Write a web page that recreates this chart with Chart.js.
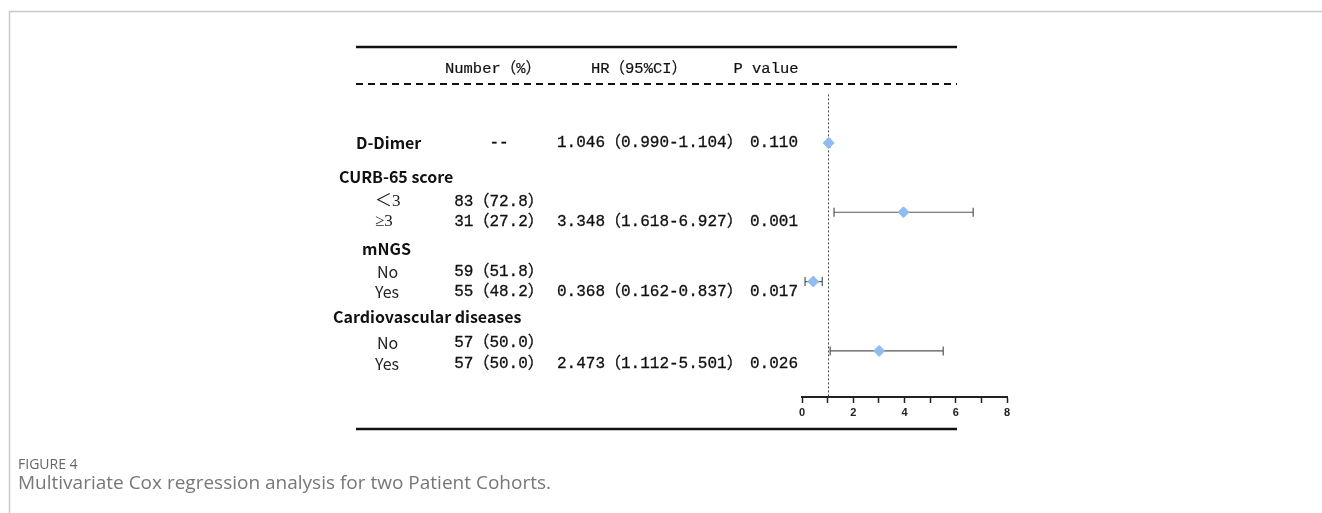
<!DOCTYPE html>
<html>
<head>
<meta charset="utf-8">
<script src="https://cdn.jsdelivr.net/npm/chart.js@4.4.1/dist/chart.umd.min.js"></script>
<style>
  body { margin: 0; background: #fff; }
  #wrap { position: relative; width: 1322px; height: 513px; }
</style>
</head>
<body>
<div id="wrap"><canvas id="forest"></canvas></div>
<script>
// values
var variables = ['D-Dimer', 'CURB-65 score', 'mNGS', 'Cardiovascular diseases'];
var levels = [[], ['＜3', '≥3'], ['No', 'Yes'], ['No', 'Yes']];
var counts = [['--'], ['83（72.8）', '31（27.2）'], ['59（51.8）', '55（48.2）'], ['57（50.0）', '57（50.0）']];
var hrLabels = ['1.046（0.990-1.104）', '3.348（1.618-6.927）', '0.368（0.162-0.837）', '2.473（1.112-5.501）'];
var pValues = ['0.110', '0.001', '0.017', '0.026'];
var hrPoint = [1.04, 3.96, 0.44, 3.01];
var ciLow = [0.99, 1.25, 0.12, 1.10];
var ciHigh = [1.10, 6.68, 0.79, 5.51];
var xTicks = [0, 2, 4, 6, 8];
var headers = ['Number（%）', 'HR（95%CI）', 'P value'];

// row layout, in y-scale units (marker rows are 0..3)
var groupRow = [0, 0.49, 1.53, 2.51];
var levelRow = [[], [0.85, 1.14], [1.86, 2.15], [2.885, 3.19]];
var groupX = [356, 339, 362, 333];

var monoFont = "16px 'Liberation Mono', 'Noto Sans CJK SC'";
var headFont = "15.5px 'Liberation Mono', 'Noto Sans CJK SC'";
var serifFont = "17px 'Liberation Serif', 'Noto Sans CJK SC'";
var sansBold = "bold 16px 'Noto Sans CJK SC'";
var sans = "16px 'Noto Sans CJK SC'";

// mono text with a thin outline so it reads as heavy as the original
function heavyText(c, s, x, y, w) {
  c.fillText(s, x, y);
  c.lineWidth = w;
  c.strokeStyle = c.fillStyle;
  c.strokeText(s, x, y);
}

var tablePlugin = {
  id: 'table',
  beforeDraw: function(chart) {
    var c = chart.ctx;
    c.save();
    c.fillStyle = '#fff';
    c.fillRect(0, 0, chart.width, chart.height);
    c.strokeStyle = '#c9c9c9';
    c.lineWidth = 1.5;
    c.beginPath();
    c.moveTo(9.5, chart.height);
    c.lineTo(9.5, 11.5);
    c.lineTo(chart.width, 11.5);
    c.stroke();
    c.restore();
  },
  beforeDatasetsDraw: function(chart) {
    var c = chart.ctx, xs = chart.scales.x, ys = chart.scales.y;
    c.save();
    // reference line at HR = 1
    c.strokeStyle = '#444';
    c.lineWidth = 1;
    c.setLineDash([2, 2]);
    c.beginPath();
    var x1 = Math.round(xs.getPixelForValue(1)) + 0.5;
    c.moveTo(x1, chart.chartArea.top);
    c.lineTo(x1, chart.chartArea.bottom);
    c.stroke();
    c.setLineDash([]);
    // confidence intervals
    c.strokeStyle = '#555';
    c.lineWidth = 1.2;
    for (var i = 0; i < variables.length; i++) {
      var y = ys.getPixelForValue(i);
      var a = xs.getPixelForValue(ciLow[i]), b = xs.getPixelForValue(ciHigh[i]);
      c.beginPath();
      c.moveTo(a, y); c.lineTo(b, y);
      c.moveTo(a, y - 4.5); c.lineTo(a, y + 4.5);
      c.moveTo(b, y - 4.5); c.lineTo(b, y + 4.5);
      c.stroke();
    }
    c.restore();
  },
  afterDraw: function(chart) {
    var c = chart.ctx, ys = chart.scales.y;
    c.save();
    // table rules
    c.strokeStyle = '#111';
    c.lineWidth = 2.5;
    c.beginPath();
    c.moveTo(356, ys.getPixelForValue(-1.385));
    c.lineTo(957, ys.getPixelForValue(-1.385));
    c.moveTo(356, ys.getPixelForValue(4.125));
    c.lineTo(957, ys.getPixelForValue(4.125));
    c.stroke();
    c.lineWidth = 2;
    c.setLineDash([7, 5]);
    c.beginPath();
    c.moveTo(356, ys.getPixelForValue(-0.851));
    c.lineTo(957, ys.getPixelForValue(-0.851));
    c.stroke();
    c.setLineDash([]);

    c.textBaseline = 'middle';
    c.fillStyle = '#111';
    c.font = headFont;
    c.textAlign = 'center';
    var hy = ys.getPixelForValue(-1.067);
    heavyText(c, headers[0], 493, hy, 0.2);
    heavyText(c, headers[1], 639, hy, 0.2);
    heavyText(c, headers[2], 766, hy, 0.2);

    for (var i = 0; i < variables.length; i++) {
      c.textAlign = 'left';
      c.font = sansBold;
      c.fillStyle = '#111';
      c.fillText(variables[i], groupX[i], ys.getPixelForValue(groupRow[i]));
      var rows = levelRow[i].length ? levelRow[i] : [groupRow[i]];
      for (var j = 0; j < rows.length; j++) {
        var y = ys.getPixelForValue(rows[j]);
        var lv = levels[i][j];
        if (lv) {
          c.font = /3/.test(lv) ? serifFont : sans;
          c.fillStyle = '#222';
          c.textAlign = 'left';
          c.fillText(lv, lv === 'No' ? 377 : 375, y);
        }
        c.font = monoFont;
        c.fillStyle = '#111';
        c.textAlign = 'center';
        heavyText(c, counts[i][j], 499, y, 0.3);
      }
      var ly = ys.getPixelForValue(rows[rows.length - 1]);
      c.textAlign = 'left';
      heavyText(c, hrLabels[i], 557, ly, 0.3);
      heavyText(c, pValues[i], 750, ly, 0.3);
    }

    // figure caption
    c.textBaseline = 'alphabetic';
    c.textAlign = 'left';
    c.fillStyle = '#666';
    c.font = "14px 'Open Sans'";
    c.fillText('FIGURE 4', 18, 469);
    c.fillStyle = '#777';
    c.font = "19px 'Open Sans'";
    c.fillText('Multivariate Cox regression analysis for two Patient Cohorts.', 18, 489);
    c.restore();
  }
};

var ctx = document.getElementById('forest');
var forest = new Chart(ctx, {
  type: 'scatter',
  data: {
    datasets: [{
      label: 'HR',
      data: variables.map(function(v, i) { return { x: hrPoint[i], y: i }; }),
      pointStyle: 'rectRot',
      pointRadius: 5.5,
      pointHoverRadius: 5.5,
      backgroundColor: '#8fbdf2',
      borderColor: '#8fbdf2',
      borderWidth: 1
    }]
  },
  options: {
    responsive: true,
    maintainAspectRatio: false,
    animation: false,
    events: [],
    layout: { padding: { left: 802, right: 315, top: 94.4, bottom: 0 } },
    plugins: { legend: { display: false }, tooltip: { enabled: false } },
    scales: {
      x: {
        type: 'linear',
        min: 0,
        max: 8,
        afterFit: function(s) { s.height = 116; },
        afterBuildTicks: function(s) {
          var t = [];
          for (var v = 0; v <= 8; v++) t.push({ value: v });
          s.ticks = t;
        },
        ticks: {
          autoSkip: false,
          maxRotation: 0,
          padding: 3,
          color: '#222',
          font: { family: 'Liberation Sans', size: 11, weight: 'bold' },
          callback: function(v) { return xTicks.indexOf(v) >= 0 ? v : ''; }
        },
        grid: { drawOnChartArea: false, drawTicks: true, tickLength: 6, tickColor: '#222', tickWidth: 1.5 },
        border: { display: true, color: '#222', width: 2 }
      },
      y: { type: 'linear', display: false, reverse: true, min: -0.7, max: 3.665 }
    }
  },
  plugins: [tablePlugin]
});
</script>
</body>
</html>
